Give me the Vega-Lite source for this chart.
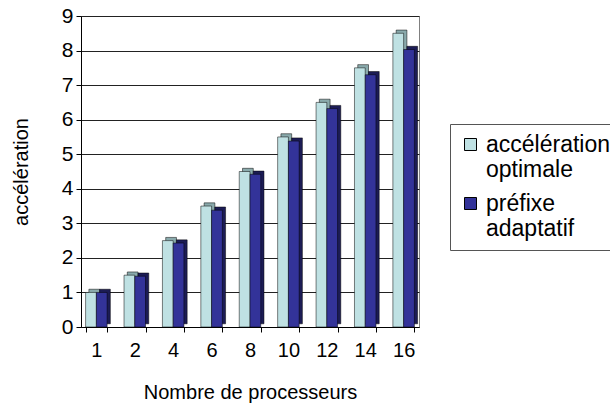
{
  "$schema": "https://vega.github.io/schema/vega-lite/v6.json",
  "width": 338,
  "height": 311,
  "autosize": "none",
  "padding": {"left": 81, "top": 16, "right": 191, "bottom": 77},
  "background": "white",
  "config": {
    "font": "Liberation Sans",
    "view": {"stroke": "#808080", "strokeWidth": 1},
    "text": {"lineHeight": 25}
  },
  "data": {
    "values": [
      {"p": 1, "serie": "accélération optimale", "v": 1},
      {"p": 2, "serie": "accélération optimale", "v": 1.5},
      {"p": 4, "serie": "accélération optimale", "v": 2.5},
      {"p": 6, "serie": "accélération optimale", "v": 3.5},
      {"p": 8, "serie": "accélération optimale", "v": 4.5},
      {"p": 10, "serie": "accélération optimale", "v": 5.5},
      {"p": 12, "serie": "accélération optimale", "v": 6.5},
      {"p": 14, "serie": "accélération optimale", "v": 7.5},
      {"p": 16, "serie": "accélération optimale", "v": 8.5},
      {"p": 1, "serie": "préfixe adaptatif", "v": 1},
      {"p": 2, "serie": "préfixe adaptatif", "v": 1.47},
      {"p": 4, "serie": "préfixe adaptatif", "v": 2.43},
      {"p": 6, "serie": "préfixe adaptatif", "v": 3.38},
      {"p": 8, "serie": "préfixe adaptatif", "v": 4.42},
      {"p": 10, "serie": "préfixe adaptatif", "v": 5.38},
      {"p": 12, "serie": "préfixe adaptatif", "v": 6.32},
      {"p": 14, "serie": "préfixe adaptatif", "v": 7.3},
      {"p": 16, "serie": "préfixe adaptatif", "v": 8.03}
    ]
  },
  "encoding": {
    "x": {
      "field": "p",
      "type": "ordinal",
      "sort": null,
      "scale": {"paddingInner": 0.44, "paddingOuter": 0.12},
      "axis": {
        "title": "Nombre de processeurs",
        "titleFontSize": 20,
        "titleFontWeight": "normal",
        "titleColor": "black",
        "titlePadding": 22,
        "labelFontSize": 20,
        "labelColor": "black",
        "labelAngle": 0,
        "labelPadding": 8,
        "tickBand": "extent",
        "tickSize": 5,
        "tickColor": "black",
        "domainColor": "black",
        "grid": false
      }
    },
    "y": {
      "field": "v",
      "type": "quantitative",
      "scale": {"domain": [0, 9], "nice": false},
      "axis": {
        "title": "accélération",
        "titleFontSize": 20,
        "titleFontWeight": "normal",
        "titleColor": "black",
        "titlePadding": 30,
        "values": [0, 1, 2, 3, 4, 5, 6, 7, 8, 9],
        "labelFontSize": 21,
        "labelColor": "black",
        "labelPadding": 3,
        "tickSize": 5,
        "tickColor": "black",
        "domainColor": "black",
        "grid": true,
        "gridColor": "#222222",
        "gridWidth": 1
      }
    }
  },
  "layer": [
    {
      "transform": [{"filter": "datum.serie == 'accélération optimale'"}],
      "mark": {"type": "bar", "width": {"band": 0.5}, "xOffset": -2.1, "yOffset": -3.2, "color": "#8AAAAC", "stroke": "black", "strokeWidth": 0.5}
    },
    {
      "transform": [{"filter": "datum.serie == 'préfixe adaptatif'"}],
      "mark": {"type": "bar", "width": {"band": 0.5}, "xOffset": 8.6, "yOffset": -3.2, "color": "#1C1C55", "stroke": "black", "strokeWidth": 0.5}
    },
    {
      "mark": {"type": "bar", "stroke": "black", "strokeWidth": 0.5},
      "encoding": {
        "xOffset": {"field": "serie", "type": "nominal", "sort": ["accélération optimale", "préfixe adaptatif"]},
        "color": {
          "field": "serie",
          "type": "nominal",
          "sort": ["accélération optimale", "préfixe adaptatif"],
          "scale": {"range": ["#BFE1E3", "#333399"]},
          "legend": {
            "title": null,
            "orient": "none",
            "legendX": 369,
            "legendY": 108,
            "strokeColor": "#555555",
            "fillColor": "white",
            "padding": 9,
            "labelFontSize": 23,
            "labelColor": "black",
            "labelLimit": 400,
            "labelExpr": "datum.label == 'accélération optimale' ? ['accélération', 'optimale'] : ['préfixe', 'adaptatif']",
            "symbolType": "square",
            "symbolSize": 144,
            "symbolStrokeColor": "black",
            "symbolStrokeWidth": 1,
            "rowPadding": 10
          }
        }
      }
    }
  ]
}
